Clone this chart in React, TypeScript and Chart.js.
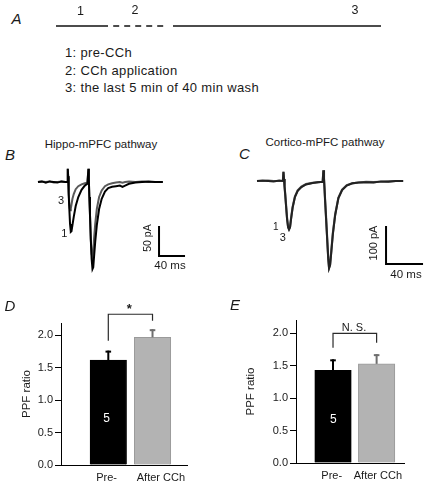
import React, { useEffect, useRef } from "react";
import { Chart, registerables } from "chart.js";

Chart.register(...registerables);

const FONT = '"Liberation Sans", Arial, Helvetica, sans-serif';
const INK = "#1a1a1a";

// ---- Panel A: protocol timeline (minutes) ----
const timelineLabels = ["1", "2", "3"];
const prePeriod = [0, 10];
const cchPeriod = [11, 21];
const washPeriod = [22.5, 62.5];
const legendLines = ["1: pre-CCh", "2: CCh application", "3: the last 5 min of 40 min wash"];

// ---- Panel B: Hippo-mPFC traces (ms, pA) ----
const timeB = [0, 6, 12, 18, 24, 30, 36, 42, 45, 45.8, 46.4, 47.2, 48.2, 49.3, 50.5, 51.5, 53, 55, 58, 62, 67, 72, 76, 77.6, 78.2, 79, 80, 81.2, 82.5, 83.8, 85, 86.2, 88, 90.5, 94, 98, 103, 108, 114, 120, 126, 130, 134, 140, 150, 160, 170, 180, 192];
const trace1B = [0, 1, -1, 1, 0, -1, 1, 0, 0, 22, 10, -20, -45, -70, -83, -82, -72, -58, -40, -25, -13, -6, -3, 22, 5, -25, -55, -95, -128, -145, -142, -125, -100, -72, -45, -28, -16, -10, -8, -7, -6, -8, -6, -3, -1, 0, 1, 0, 0];
const trace3B = [0, 1, 0, 1, -1, 0, 1, 0, 0, 22, 8, -18, -38, -47, -44, -38, -28, -20, -12, -7, -4, -2, -1, 22, 5, -25, -55, -95, -120, -125, -115, -95, -70, -45, -25, -14, -7, -4, -2, -1, 0, -1, 0, 1, 0, 1, 0, 0, 0];
const scaleBarB = { t: 186.2, v: -73.3, ms: 40, pA: 50 };

// ---- Panel C: Cortico-mPFC traces (ms, pA) ----
const timeC = [0, 6, 12, 18, 24, 28, 28.6, 29.2, 29.8, 30.5, 31.4, 32.5, 33.6, 34.6, 35.7, 36.8, 38.5, 41, 44, 48, 53, 60, 66, 71, 71.8, 72.4, 73, 73.6, 74.6, 75.8, 77, 77.9, 79, 80.2, 82, 84.5, 88, 92, 97, 103, 110, 118, 126, 134, 142, 150, 158];
const trace1C = [0, 1, 0, -1, 1, 0, 24, 5, -15, -35, -65, -100, -122, -128, -122, -100, -70, -42, -26, -16, -9, -5, -3, -2, 28, 8, -20, -50, -95, -150, -205, -230, -222, -190, -140, -90, -45, -24, -12, -6, -4, -3, -4, -1, -2, 0, 0];
const trace3C = [0, 0, 1, 0, 0, 0, 24, 5, -15, -35, -63, -98, -120, -126, -121, -99, -69, -41, -25, -15, -8, -5, -3, -2, 28, 8, -20, -50, -93, -148, -202, -228, -220, -188, -138, -88, -44, -23, -11, -6, -4, -2, -3, -2, -1, 0, 0];
const scaleBarC = { t: 139.5, v: -118.4, ms: 40, pA: 100 };

// ---- Panels D / E: PPF ratio ----
const barCategories = ["Pre-", "After CCh"];
const yTicks = [0, 0.5, 1.0, 1.5, 2.0];
const ppfD = [1.615, 1.965];
const semD = [0.145, 0.125];
const bracketD = [1.91, 2.32, 2.22];
const ppfE = [1.43, 1.53];
const semE = [0.17, 0.15];
const bracketE = [1.78, 2.0, 1.855];
const cellCount = 5;
const labelPosD = [0.96, 2.19];
const labelPosE = [0.97, 2.03];

const barColors = ["#000000", "#b3b3b3"];
const barEdge = ["#000000", "#9a9a9a"];
const errColors = ["#000000", "#6e6e6e"];

function pts(t: number[], v: number[]) {
  return t.map((x, i) => ({ x, y: v[i] }));
}
function scaleBarPts(b: { t: number; v: number; ms: number; pA: number }) {
  return [
    { x: b.t, y: b.v },
    { x: b.t, y: b.v - b.pA },
    { x: b.t + b.ms, y: b.v - b.pA },
  ];
}

const errorBarPlugin = {
  id: "errorBars",
  afterDatasetsDraw(chart: any, _args: any, opts: any) {
    const { ctx } = chart;
    const ys = chart.scales.y;
    const xs = chart.scales.x;
    const meta = chart.getDatasetMeta(0);
    ctx.save();
    opts.values.forEach((v: number, i: number) => {
      const bar = meta.data[i];
      const x = bar.x;
      const y0 = ys.getPixelForValue(v);
      const y1 = ys.getPixelForValue(v + opts.errors[i]);
      ctx.strokeStyle = errColors[i];
      ctx.lineWidth = 2;
      ctx.beginPath();
      ctx.moveTo(x, y0);
      ctx.lineTo(x, y1);
      ctx.stroke();
      ctx.beginPath();
      ctx.moveTo(x - 2.8, y1 + 1);
      ctx.lineTo(x + 2.8, y1 + 1);
      ctx.stroke();
    });
    const b = opts.bracket;
    const xl = xs.getPixelForValue(1);
    const xr = xs.getPixelForValue(2);
    ctx.strokeStyle = "#2a2a2a";
    ctx.lineWidth = 1.2;
    ctx.beginPath();
    ctx.moveTo(xl, ys.getPixelForValue(b[0]));
    ctx.lineTo(xl, ys.getPixelForValue(b[1]));
    ctx.lineTo(xr, ys.getPixelForValue(b[1]));
    ctx.lineTo(xr, ys.getPixelForValue(b[2]));
    ctx.stroke();
    ctx.restore();
  },
};

function traceConfig(datasets: any[], xr: number[], yr: number[]) {
  return {
    type: "line",
    data: { datasets },
    options: {
      animation: false,
      responsive: false,
      events: [],
      layout: { padding: 0 },
      plugins: { legend: { display: false }, tooltip: { enabled: false } },
      elements: { point: { radius: 0 }, line: { tension: 0 } },
      scales: {
        x: { type: "linear", min: xr[0], max: xr[1], display: false },
        y: { type: "linear", min: yr[0], max: yr[1], display: false },
      },
    },
  };
}

function lineDs(data: any[], color: string, width: number, dash: number[] = []) {
  return {
    data,
    borderColor: color,
    borderWidth: width,
    borderDash: dash,
    pointRadius: 0,
    fill: false,
    clip: false,
    borderJoinStyle: "miter",
  };
}

function barConfig(vals: number[], errs: number[], bracket: number[], xr: number[], ymax: number, axisW: number, axisH: number, padTop: number, padRight: number, titlePad: number, labelPos: number[]) {
  const tickFont = { family: FONT, size: 11 };
  return {
    type: "bar",
    data: {
      datasets: [
        {
          data: vals.map((v, i) => ({ x: i + 1, y: v })),
          backgroundColor: barColors,
          borderColor: barEdge,
          borderWidth: 1,
          barThickness: 36.5,
        },
      ],
    },
    plugins: [errorBarPlugin],
    options: {
      animation: false,
      responsive: false,
      events: [],
      layout: { padding: { top: padTop, right: padRight, left: 0, bottom: 0 } },
      plugins: {
        legend: { display: false },
        tooltip: { enabled: false },
        errorBars: { values: vals, errors: errs, bracket },
      },
      scales: {
        x: {
          type: "linear",
          min: xr[0],
          max: xr[1],
          offset: false,
          grid: { display: false, drawTicks: false },
          border: { display: true, color: "#000", width: 1 },
          afterBuildTicks: (s: any) => {
            s.ticks = labelPos.map((value) => ({ value }));
          },
          afterFit: (s: any) => {
            s.height = axisH;
          },
          ticks: {
            callback: (_v: any, i: number) => barCategories[i],
            font: tickFont,
            color: INK,
            padding: 6,
            maxRotation: 0,
            autoSkip: false,
          },
        },
        y: {
          min: 0,
          max: ymax,
          grid: { display: true, drawOnChartArea: false, drawTicks: true, tickLength: 6, color: "#000" },
          border: { display: true, color: "#000", width: 1 },
          afterBuildTicks: (s: any) => {
            s.ticks = yTicks.map((value) => ({ value }));
          },
          afterFit: (s: any) => {
            s.width = axisW;
          },
          ticks: {
            callback: (v: any) => Number(v).toFixed(1),
            font: tickFont,
            color: INK,
            padding: 2,
          },
          title: {
            display: true,
            text: "PPF ratio",
            font: { family: FONT, size: 11.5 },
            color: INK,
            padding: { top: titlePad, bottom: 0 },
          },
        },
      },
    },
  };
}

function T(props: { x: number; y: number; s?: number; it?: boolean; rot?: number; left?: boolean; color?: string; ls?: number; bold?: boolean; children: any }) {
  const { x, y, s = 12, it = false, rot = 0, left = false, color = INK, ls = 0, bold = false } = props;
  return (
    <div
      style={{
        position: "absolute",
        left: x,
        top: y,
        fontSize: s,
        fontStyle: it ? "italic" : "normal",
        fontWeight: bold ? "bold" : "normal",
        fontFamily: FONT,
        color,
        lineHeight: 1,
        whiteSpace: "nowrap",
        letterSpacing: ls,
        transform: `translate(${left ? "0" : "-50%"}, -50%) rotate(${rot}deg)`,
      }}
    >
      {props.children}
    </div>
  );
}

function Cv(props: { r: any; x: number; y: number; w: number; h: number }) {
  return (
    <canvas
      ref={props.r}
      width={props.w}
      height={props.h}
      style={{ position: "absolute", left: props.x, top: props.y, width: props.w, height: props.h }}
    />
  );
}

export default function App() {
  const rA = useRef<HTMLCanvasElement>(null);
  const rB = useRef<HTMLCanvasElement>(null);
  const rC = useRef<HTMLCanvasElement>(null);
  const rD = useRef<HTMLCanvasElement>(null);
  const rE = useRef<HTMLCanvasElement>(null);

  useEffect(() => {
    const charts: Chart[] = [];
    const seg = (p: number[]) => [{ x: p[0], y: 0 }, { x: p[1], y: 0 }];
    charts.push(
      new Chart(
        rA.current!,
        traceConfig(
          [lineDs(seg(prePeriod), "#111", 1.3), lineDs(seg(cchPeriod), "#111", 1.3, [6, 5]), lineDs(seg(washPeriod), "#111", 1.3)],
          [-1.154, 64.23],
          [-1, 1]
        ) as any
      )
    );
    charts.push(
      new Chart(
        rB.current!,
        traceConfig(
          [lineDs(pts(timeB, trace1B), "#000", 2), lineDs(pts(timeB, trace3B), "#5a5a5a", 2), lineDs(scaleBarPts(scaleBarB), "#000", 2)],
          [-6.154, 233.85],
          [-156.67, 36.67]
        ) as any
      )
    );
    charts.push(
      new Chart(
        rC.current!,
        traceConfig(
          [lineDs(pts(timeC, trace1C), "#222", 2), lineDs(pts(timeC, trace3C), "#606060", 2.2), lineDs(scaleBarPts(scaleBarC), "#000", 2)],
          [-4.324, 183.78],
          [-252.6, 47.37]
        ) as any
      )
    );
    charts.push(new Chart(rD.current!, barConfig(ppfD, semD, bracketD, [-0.07, 2.78], 2.185, 61, 19, 23, 23, 19.5, labelPosD) as any));
    charts.push(new Chart(rE.current!, barConfig(ppfE, semE, bracketE, [0.151, 2.628], 2.207, 86, 21, 20, 23, 33.8, labelPosE) as any));
    return () => charts.forEach((c) => c.destroy());
  }, []);

  return (
    <div style={{ position: "absolute", left: 0, top: 0, width: 427, height: 484, background: "#fff", overflow: "hidden" }}>
      <Cv r={rA} x={50} y={16} w={340} h={20} />
      <Cv r={rB} x={34} y={160} w={156} h={116} />
      <Cv r={rC} x={253} y={163} w={174} h={114} />
      <Cv r={rD} x={0} y={300} w={210} h={184} />
      <Cv r={rE} x={210} y={300} w={217} h={184} />

      <T x={16.5} y={18} s={15} it>A</T>
      <T x={80.5} y={10.7} s={12.5}>{timelineLabels[0]}</T>
      <T x={135} y={10} s={12.5}>{timelineLabels[1]}</T>
      <T x={355} y={10} s={12.5}>{timelineLabels[2]}</T>
      <T x={65} y={52.3} s={13} left ls={0.35}>{legendLines[0]}</T>
      <T x={65} y={70} s={13} left ls={0.35}>{legendLines[1]}</T>
      <T x={65} y={87.3} s={13} left ls={0.35}>{legendLines[2]}</T>

      <T x={10} y={154} s={15} it>B</T>
      <T x={101} y={145} s={11.5}>Hippo-mPFC pathway</T>
      <T x={61} y={200} s={11}>3</T>
      <T x={64.3} y={232.7} s={11}>1</T>
      <T x={146.7} y={238.3} s={10.5} rot={-90}>50 pA</T>
      <T x={170} y={265.7} s={11.5}>40 ms</T>

      <T x={244.3} y={153.3} s={15} it>C</T>
      <T x={325} y={143.3} s={11.5}>Cortico-mPFC pathway</T>
      <T x={275.7} y={226.7} s={10}>1</T>
      <T x={282.7} y={236.7} s={11}>3</T>
      <T x={373.3} y={243.3} s={11} rot={-90}>100 pA</T>
      <T x={406} y={275} s={11.5}>40 ms</T>

      <T x={10} y={305} s={15} it>D</T>
      <T x={129.3} y={308} s={13} bold>*</T>
      <T x={106.7} y={418.3} s={12} color="#fff">{String(cellCount)}</T>

      <T x={235} y={304} s={15} it>E</T>
      <T x={354} y={326.7} s={11}>N. S.</T>
      <T x={333.3} y={419.3} s={12} color="#fff">{String(cellCount)}</T>
    </div>
  );
}
